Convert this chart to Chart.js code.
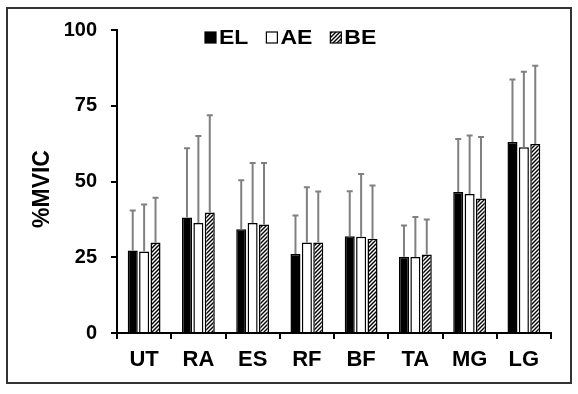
<!DOCTYPE html>
<html>
<head>
<meta charset="utf-8">
<script src="https://cdn.jsdelivr.net/npm/chart.js@4/dist/chart.umd.min.js"></script>
<style>
  body { margin: 0; background: #fff; }
  #wrap { width: 578px; height: 394px; }
</style>
</head>
<body>
<div id="wrap"><canvas id="myChart" width="578" height="394"></canvas></div>
<script>
// muscles on the x axis
var categories = ['UT', 'RA', 'ES', 'RF', 'BF', 'TA', 'MG', 'LG']

// mean %MVIC per condition
var elValues = [27.2, 38.1, 34.2, 26.1, 31.9, 25.2, 46.5, 63.0]
var aeValues = [26.9, 36.3, 36.3, 29.9, 31.8, 25.1, 45.9, 61.3]
var beValues = [29.9, 39.8, 35.8, 29.9, 31.1, 25.9, 44.4, 62.4]

// standard deviations (upper error bars only)
var elSd = [13.2, 22.9, 16.2, 12.7, 14.9, 10.3, 17.5, 20.7]
var aeSd = [15.5, 28.7, 19.8, 18.2, 20.7, 13.2, 19.3, 24.9]
var beSd = [14.7, 32.1, 20.3, 16.8, 17.6, 11.6, 20.3, 25.8]

var yTicks = [0, 25, 50, 75, 100]
var yTitle = '%MVIC'

var FONT = "'Liberation Sans', Arial, sans-serif"

// hatch pattern for BE
function makeHatch() {
    var c = document.createElement('canvas')
    c.width = 4
    c.height = 4
    var g = c.getContext('2d')
    g.fillStyle = '#fff'
    g.fillRect(0, 0, 4, 4)
    g.strokeStyle = '#000'
    g.lineWidth = 1.4
    g.beginPath()
    g.moveTo(-1, 5); g.lineTo(5, -1)
    g.moveTo(-1, 1); g.lineTo(1, -1)
    g.moveTo(3, 5); g.lineTo(5, 3)
    g.stroke()
    return g.createPattern(c, 'repeat')
}
var hatch = makeHatch()

// white page + outer frame
var framePlugin = {
    id: 'frame',
    beforeDraw(chart) {
        var ctx = chart.ctx
        ctx.save()
        ctx.fillStyle = '#fff'
        ctx.fillRect(0, 0, chart.width, chart.height)
        ctx.strokeStyle = '#333'
        ctx.lineWidth = 2
        ctx.strokeRect(7, 8, 564, 375)
        ctx.restore()
    }
}

// upper error bars
var errorBarPlugin = {
    id: 'errorBars',
    afterDatasetsDraw(chart) {
        var ctx = chart.ctx
        var yScale = chart.scales.y
        ctx.save()
        ctx.strokeStyle = '#808080'
        ctx.lineWidth = 2
        chart.data.datasets.forEach((ds, i) => {
            var meta = chart.getDatasetMeta(i)
            meta.data.forEach((bar, j) => {
                var top = yScale.getPixelForValue(ds.data[j] + ds.sd[j])
                ctx.beginPath()
                ctx.moveTo(bar.x, bar.y)
                ctx.lineTo(bar.x, top)
                ctx.moveTo(bar.x - 3, top)
                ctx.lineTo(bar.x + 3, top)
                ctx.stroke()
            })
        })
        ctx.restore()
    }
}

// legend inside the plot near the top, plus the y axis title
var legendPlugin = {
    id: 'innerLegend',
    afterDraw(chart) {
        var ctx = chart.ctx
        var area = chart.chartArea
        var x = area.left + 88
        var y = 37
        ctx.save()
        ctx.font = 'bold 20px ' + FONT
        ctx.textBaseline = 'middle'
        chart.data.datasets.forEach((ds) => {
            ctx.fillStyle = ds.backgroundColor
            ctx.fillRect(x, y - 5, 11, 11)
            ctx.strokeStyle = '#000'
            ctx.lineWidth = 1.2
            ctx.strokeRect(x, y - 5, 11, 11)
            ctx.fillStyle = '#000'
            ctx.save()
            ctx.translate(x + 14, y + 1)
            ctx.scale(1.15, 1)
            ctx.fillText(ds.label, 0, 0)
            ctx.restore()
            x += 14 + ctx.measureText(ds.label).width * 1.15 + 18
        })

        // rotated axis title
        ctx.font = 'bold 23px ' + FONT
        ctx.textAlign = 'center'
        ctx.translate(43, 189)
        ctx.rotate(-Math.PI / 2)
        ctx.fillText(yTitle, 0, 0)
        ctx.restore()
    }
}

const ctx = document.getElementById('myChart')

new Chart(ctx, {
    type: 'bar',
    data: {
        labels: categories,
        datasets: [
            { label: 'EL', data: elValues, sd: elSd, backgroundColor: '#000', borderColor: '#000', borderWidth: 1.5 },
            { label: 'AE', data: aeValues, sd: aeSd, backgroundColor: '#fff', borderColor: '#000', borderWidth: 1.5 },
            { label: 'BE', data: beValues, sd: beSd, backgroundColor: hatch, borderColor: '#000', borderWidth: 1.5 }
        ]
    },
    options: {
        responsive: false,
        animation: false,
        categoryPercentage: 0.63,
        barPercentage: 0.88,
        layout: { padding: { left: 0, top: 30, right: 27, bottom: 0 } },
        plugins: {
            legend: { display: false },
            tooltip: { enabled: false }
        },
        scales: {
            x: {
                grid: { drawOnChartArea: false, offset: true, tickLength: 6, color: '#000', lineWidth: 2 },
                border: { color: '#000', width: 2 },
                ticks: { color: '#000', padding: 8, font: { family: FONT, size: 22, weight: 'bold' } },
                afterFit: (scale) => { scale.height = 61 }
            },
            y: {
                min: 0,
                max: 100,
                afterBuildTicks: (scale) => { scale.ticks = yTicks.map(v => ({ value: v })) },
                grid: { drawOnChartArea: false, tickLength: 6, color: '#000', lineWidth: 2 },
                border: { color: '#000', width: 2 },
                ticks: { color: '#000', padding: 14, font: { family: FONT, size: 20, weight: 'bold' } },
                afterFit: (scale) => { scale.width = 117 }
            }
        }
    },
    plugins: [framePlugin, errorBarPlugin, legendPlugin]
});
</script>
</body>
</html>
